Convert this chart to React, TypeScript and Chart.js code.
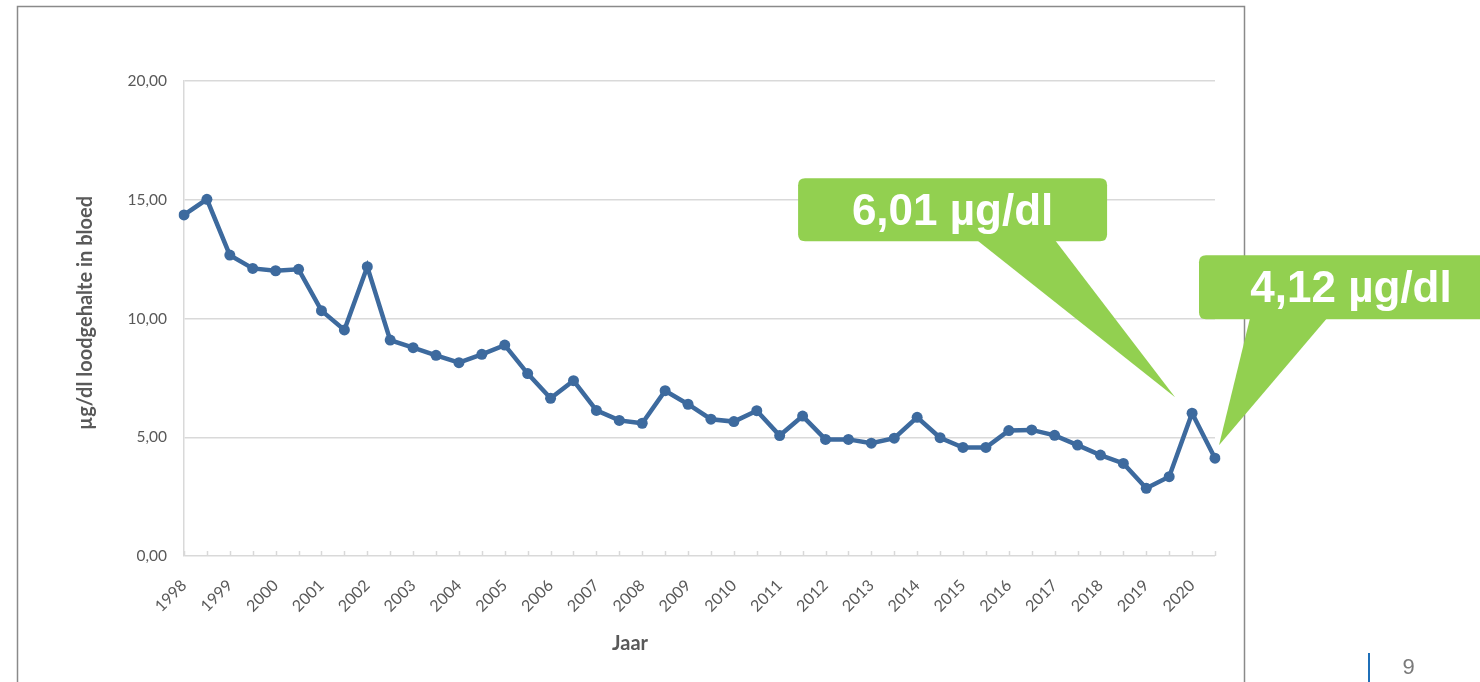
import React, { useEffect, useRef } from 'react';
import { Chart, registerables } from 'chart.js';

Chart.register(...registerables);

// Years on the category axis (two measurements per year)
const years = [
  '1998', '1999', '2000', '2001', '2002', '2003', '2004', '2005', '2006', '2007', '2008', '2009',
  '2010', '2011', '2012', '2013', '2014', '2015', '2016', '2017', '2018', '2019', '2020',
];

// Lead in blood (µg/dl), two values per year
const leadValues = [
  14.36, 15.02, 12.67, 12.11, 12.01, 12.07, 10.33, 9.52, 12.18, 9.09, 8.77, 8.45,
  8.14, 8.49, 8.88, 7.68, 6.64, 7.38, 6.13, 5.71, 5.59, 6.96, 6.39, 5.76,
  5.66, 6.12, 5.07, 5.89, 4.91, 4.91, 4.75, 4.96, 5.84, 4.98, 4.57, 4.57,
  5.28, 5.31, 5.08, 4.67, 4.25, 3.9, 2.85, 3.34, 6.01, 4.12,
];

const yTickValues = [0, 5, 10, 15, 20];

const yAxisTitle = 'µg/dl loodgehalte in bloed';
const xAxisTitle = 'Jaar';
const pageNumber = '9';

// Callouts anchored to data points (index in leadValues)
const calloutIndices = [44, 45];

const categoryLabels = leadValues.map((_, i) => (i % 2 === 0 ? years[i / 2] : ''));
const fmt = (v: number) => v.toFixed(2).replace('.', ',');

const calloutStyles = [
  { tipDx: -17, tipDy: -16, boxDx: -377, boxDy: -219, w: 309, h: 63, base1: -198, base2: -120 },
  { tipDx: 4, tipDy: -13, boxDx: -20, boxDy: -190, w: 304, h: 64, base1: 31, base2: 108 },
];

const GRID = '#d9d9d9';
const TEXT = '#595959';
const LINE = '#3d6a9e';
const GREEN = '#92d050';

function roundRect(ctx: CanvasRenderingContext2D, x: number, y: number, w: number, h: number, r: number) {
  ctx.beginPath();
  ctx.moveTo(x + r, y);
  ctx.lineTo(x + w - r, y);
  ctx.quadraticCurveTo(x + w, y, x + w, y + r);
  ctx.lineTo(x + w, y + h - r);
  ctx.quadraticCurveTo(x + w, y + h, x + w - r, y + h);
  ctx.lineTo(x + r, y + h);
  ctx.quadraticCurveTo(x, y + h, x, y + h - r);
  ctx.lineTo(x, y + r);
  ctx.quadraticCurveTo(x, y, x + r, y);
  ctx.closePath();
}

const decorPlugin = {
  id: 'decor',
  beforeDraw(chart: any) {
    const ctx: CanvasRenderingContext2D = chart.ctx;
    ctx.save();
    ctx.fillStyle = '#ffffff';
    ctx.fillRect(0, 0, chart.width, chart.height);
    // slide frame
    ctx.strokeStyle = '#8a8a8a';
    ctx.lineWidth = 1.5;
    ctx.beginPath();
    ctx.moveTo(17.5, chart.height + 5);
    ctx.lineTo(17.5, 6.5);
    ctx.lineTo(1244.5, 6.5);
    ctx.lineTo(1244.5, chart.height + 5);
    ctx.stroke();
    // page number
    ctx.strokeStyle = '#1f6fb8';
    ctx.lineWidth = 2;
    ctx.beginPath();
    ctx.moveTo(1369, 653);
    ctx.lineTo(1369, chart.height);
    ctx.stroke();
    ctx.fillStyle = '#7a7a7a';
    ctx.font = '22px "Liberation Sans", Arial, sans-serif';
    ctx.textAlign = 'center';
    ctx.textBaseline = 'middle';
    ctx.fillText(pageNumber, 1408.5, 668);
    ctx.restore();
  },
  beforeDatasetsDraw(chart: any) {
    const ctx: CanvasRenderingContext2D = chart.ctx;
    const xs = chart.scales.x;
    const bottom = chart.chartArea.bottom;
    ctx.save();
    ctx.strokeStyle = GRID;
    ctx.lineWidth = 1.5;
    ctx.beginPath();
    for (let i = 0; i < leadValues.length; i++) {
      const px = Math.round(xs.getPixelForValue(i)) + 0.5;
      ctx.moveTo(px, bottom);
      ctx.lineTo(px, bottom - 5);
    }
    ctx.stroke();
    ctx.restore();
  },
  afterDraw(chart: any) {
    const ctx: CanvasRenderingContext2D = chart.ctx;
    const xs = chart.scales.x;
    const ys = chart.scales.y;
    ctx.save();
    // axis titles
    ctx.fillStyle = TEXT;
    ctx.font = 'bold 20px Lato, sans-serif';
    ctx.textAlign = 'center';
    ctx.textBaseline = 'middle';
    ctx.fillText(xAxisTitle, 630, 644);
    ctx.save();
    ctx.translate(86, 313);
    ctx.rotate(-Math.PI / 2);
    ctx.fillText(yAxisTitle, 0, 0);
    ctx.restore();

    // callouts
    calloutIndices.forEach((idx, k) => {
      const s = calloutStyles[k];
      const tipX = xs.getPixelForValue(idx) + s.tipDx;
      const tipY = ys.getPixelForValue(leadValues[idx]) + s.tipDy;
      const bx = tipX + s.boxDx;
      const by = tipY + s.boxDy;
      ctx.fillStyle = GREEN;
      roundRect(ctx, bx, by, s.w, s.h, 7);
      ctx.fill();
      ctx.beginPath();
      ctx.moveTo(tipX + s.base1, by + s.h - 1);
      ctx.lineTo(tipX, tipY);
      ctx.lineTo(tipX + s.base2, by + s.h - 1);
      ctx.closePath();
      ctx.fill();
      ctx.fillStyle = '#ffffff';
      ctx.font = 'bold 44px "Liberation Sans", Arial, sans-serif';
      ctx.textAlign = 'center';
      ctx.textBaseline = 'middle';
      ctx.fillText(fmt(leadValues[idx]) + ' µg/dl', bx + s.w / 2, by + s.h / 2 + 3);
    });
    ctx.restore();
  },
};

export default function App() {
  const ref = useRef<HTMLCanvasElement>(null);

  useEffect(() => {
    if (!ref.current) return;
    const chart = new Chart(ref.current, {
      type: 'line',
      data: {
        labels: categoryLabels,
        datasets: [
          {
            data: leadValues,
            borderColor: LINE,
            backgroundColor: LINE,
            borderWidth: 4.5,
            pointRadius: 5.5,
            pointBorderWidth: 0,
            pointBackgroundColor: LINE,
            tension: 0,
            fill: false,
          },
        ],
      },
      options: {
        responsive: false,
        animation: false,
        devicePixelRatio: 1,
        layout: { padding: { top: 81, right: 265, left: 0, bottom: 0 } },
        plugins: {
          legend: { display: false },
          tooltip: { enabled: false },
          title: { display: false },
        },
        scales: {
          x: {
            type: 'category',
            offset: false,
            grid: { display: false },
            border: { display: false },
            ticks: {
              autoSkip: false,
              maxRotation: 45,
              minRotation: 45,
              padding: 12,
              color: TEXT,
              font: { family: 'Lato, sans-serif', size: 16 },
              callback: (_v: any, i: number) => categoryLabels[i],
            },
            afterFit: (scale: any) => {
              scale.height = 126;
            },
          },
          y: {
            min: 0,
            max: 20,
            grid: { color: GRID, lineWidth: 1.5, drawTicks: false },
            border: { display: true, color: GRID, width: 1.5 },
            afterBuildTicks: (scale: any) => {
              scale.ticks = yTickValues.map((v) => ({ value: v }));
            },
            ticks: {
              padding: 17,
              color: TEXT,
              font: { family: 'Lato, sans-serif', size: 15.5 },
              callback: (v: any) => fmt(Number(v)),
            },
            afterFit: (scale: any) => {
              scale.width = 184;
            },
          },
        },
      },
      plugins: [decorPlugin],
    });
    return () => chart.destroy();
  }, []);

  return (
    <div
      style={{
        position: 'fixed',
        left: 0,
        top: 0,
        width: 1480,
        height: 682,
        background: '#ffffff',
        overflow: 'hidden',
      }}
    >
      <canvas ref={ref} width={1480} height={682} style={{ display: 'block', width: 1480, height: 682 }} />
    </div>
  );
}
